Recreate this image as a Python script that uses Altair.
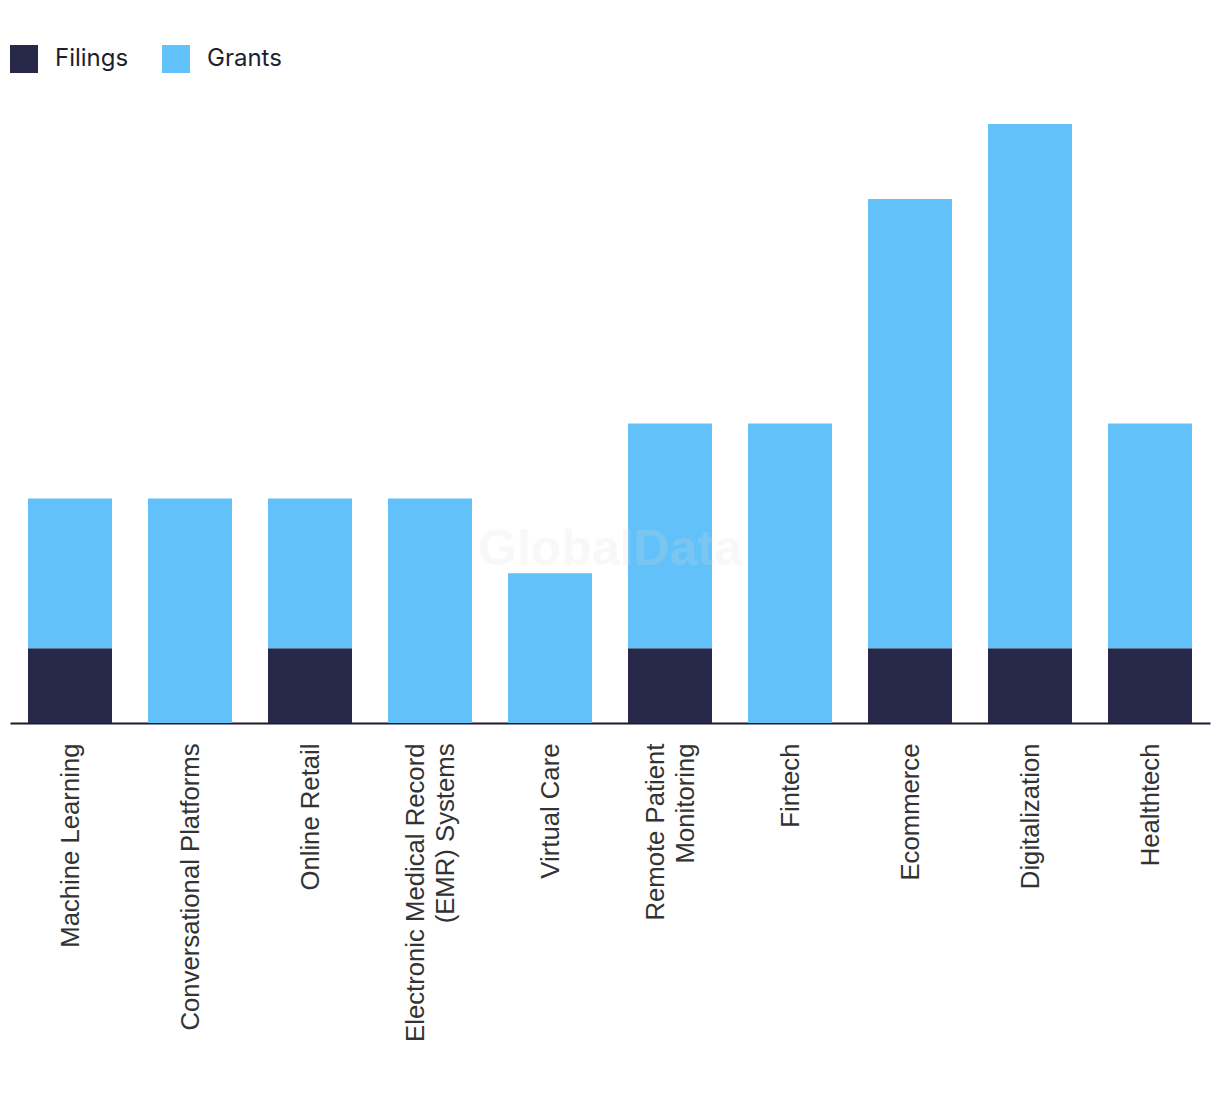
import altair as alt
import pandas as pd

categories = [
    "Machine Learning",
    "Conversational Platforms",
    "Online Retail",
    "Electronic Medical Record (EMR) Systems",
    "Virtual Care",
    "Remote Patient Monitoring",
    "Fintech",
    "Ecommerce",
    "Digitalization",
    "Healthtech",
]
filings = [1, 0, 1, 0, 0, 1, 0, 1, 1, 1]
grants = [2, 3, 2, 3, 2, 3, 4, 6, 7, 3]
series = ["Filings", "Grants"]
colors = ["#28284B", "#62C1F9"]

rows = []
for c, f, g in zip(categories, filings, grants):
    rows.append({"category": c, "series": "Filings", "value": f})
    rows.append({"category": c, "series": "Grants", "value": g})
df = pd.DataFrame(rows)

label_expr = (
    "datum.label == 'Remote Patient Monitoring' ? ['Remote Patient', 'Monitoring'] : "
    "datum.label == 'Electronic Medical Record (EMR) Systems' ? ['Electronic Medical Record', '(EMR) Systems'] : "
    "datum.label"
)
multi_test = (
    "datum.value == 'Remote Patient Monitoring' || "
    "datum.value == 'Electronic Medical Record (EMR) Systems'"
)

bars = alt.Chart(df).mark_bar().encode(
    x=alt.X(
        "category:N",
        sort=categories,
        title=None,
        scale=alt.Scale(paddingInner=0.3, paddingOuter=0.15),
        axis=alt.Axis(
            labelAngle=-90,
            labelFont="Liberation Sans",
            labelFontSize=25.7,
            labelColor="#333333",
            labelPadding=20,
            labelLineHeight=30,
            labelLimit=0,
            labelExpr=label_expr,
            labelOffset={"condition": {"test": multi_test, "value": -14}, "value": 1},
            ticks=False,
            domainColor="#1b1b2e",
            domainWidth=2,
        ),
    ),
    y=alt.Y(
        "value:Q",
        stack="zero",
        scale=alt.Scale(domain=[0, 8], nice=False),
        axis=None,
    ),
    color=alt.Color(
        "series:N",
        scale=alt.Scale(domain=series, range=colors),
        legend=alt.Legend(
            title=None,
            orient="none",
            legendX=0,
            legendY=-79,
            direction="horizontal",
            symbolType="square",
            symbolSize=784,
            symbolStrokeWidth=0,
            labelFont="Inter",
            labelFontSize=24,
            labelColor="#1e1e2e",
            labelOffset=17,
            columnPadding=33,
        ),
    ),
    order=alt.Order("series:N", sort="ascending"),
)

watermark = alt.Chart(pd.DataFrame({"t": ["GlobalData"]})).mark_text(
    font="Liberation Sans",
    fontSize=50,
    fontWeight="bold",
    color="#dddddd",
    opacity=0.2,
).encode(
    text="t:N",
    x=alt.value(600),
    y=alt.value(426),
)

chart = (
    alt.layer(bars, watermark)
    .properties(
        width=1200,
        height=599,
        autosize="none",
        padding={"left": 2, "top": 116, "right": 2, "bottom": 360},
    )
    .configure_view(stroke=None)
)

chart.save("out.html", embed_options={"renderer": "svg", "actions": False})
